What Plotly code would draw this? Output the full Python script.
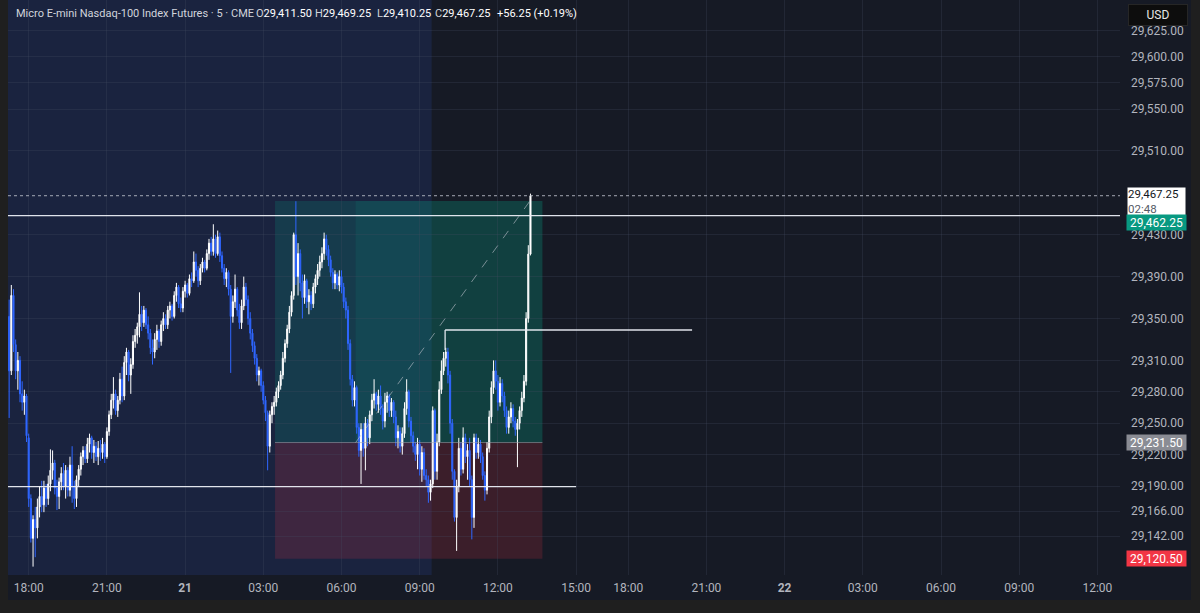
import plotly.graph_objects as go

# ---------------- data (5-minute bars, index 0 = 18:00 session open) ----------------
bar_start = -9
opens = [
    29352, 29300, 29372, 29325, 29300, 29310, 29278, 29270, 29276, 29236,
    29178, 29140, 29158, 29150, 29170, 29180, 29172, 29188, 29178, 29192,
    29205, 29212, 29188, 29180, 29194, 29202, 29190, 29205, 29186, 29210,
    29190, 29178, 29196, 29206, 29218, 29224, 29216, 29230, 29236, 29222,
    29228, 29218, 29226, 29222, 29230, 29218, 29242, 29258, 29272, 29278,
    29262, 29272, 29292, 29276, 29308, 29318, 29296, 29306, 29328, 29334,
    29342, 29354, 29346, 29358, 29344, 29336, 29322, 29318, 29330, 29338,
    29328, 29344, 29350, 29344, 29358, 29362, 29352, 29372, 29380, 29364,
    29360, 29376, 29382, 29374, 29388, 29386, 29404, 29396, 29386, 29398,
    29404, 29398, 29412, 29422, 29414, 29426, 29412, 29428, 29410, 29398,
    29388, 29394, 29378, 29352, 29366, 29378, 29358, 29346, 29362, 29380,
    29368, 29350, 29336, 29324, 29312, 29296, 29300, 29286, 29272, 29260,
    29228, 29258, 29266, 29270, 29280, 29286, 29296, 29312, 29326, 29340,
    29356, 29372, 29430, 29390, 29412, 29384, 29370, 29386, 29366, 29372,
    29364, 29380, 29388, 29396, 29404, 29412, 29426, 29416, 29406, 29394,
    29384, 29392, 29382, 29390, 29380, 29366, 29358, 29326, 29292, 29272,
    29284, 29246, 29224, 29244, 29226, 29250, 29236, 29258, 29272, 29278,
    29268, 29276, 29264, 29252, 29270, 29276, 29262, 29270, 29256, 29236,
    29242, 29228, 29240, 29264, 29280, 29252, 29238, 29228, 29220, 29230,
    29206, 29222, 29200, 29196, 29184, 29192, 29262, 29204, 29232, 29282,
    29300, 29312, 29318, 29296, 29250, 29204, 29160, 29190, 29226, 29206,
    29236, 29218, 29224, 29196, 29160, 29236, 29222, 29230, 29218, 29200,
    29186, 29226, 29256, 29284, 29300, 29290, 29270, 29288, 29276, 29262,
    29246, 29256, 29264, 29252, 29244, 29250, 29262, 29274, 29290, 29350, 29411.5,
]
highs = [
    29368, 29382, 29378, 29330, 29318, 29314, 29290, 29282, 29278, 29240,
    29182, 29162, 29170, 29178, 29190, 29195, 29195, 29192, 29200, 29225,
    29224, 29215, 29196, 29198, 29208, 29212, 29210, 29208, 29218, 29228,
    29195, 29200, 29210, 29222, 29228, 29228, 29236, 29240, 29238, 29234,
    29232, 29233, 29234, 29236, 29232, 29246, 29262, 29278, 29294, 29282,
    29276, 29298, 29304, 29314, 29322, 29320, 29312, 29334, 29340, 29346,
    29375, 29362, 29362, 29360, 29352, 29340, 29330, 29336, 29344, 29340,
    29348, 29356, 29354, 29362, 29366, 29364, 29376, 29384, 29382, 29370,
    29380, 29386, 29384, 29392, 29394, 29414, 29412, 29400, 29402, 29408,
    29406, 29416, 29426, 29428, 29440, 29430, 29434, 29432, 29414, 29402,
    29398, 29396, 29382, 29372, 29392, 29380, 29364, 29368, 29390, 29384,
    29372, 29356, 29340, 29328, 29316, 29304, 29302, 29290, 29276, 29262,
    29262, 29270, 29276, 29284, 29290, 29300, 29318, 29330, 29344, 29362,
    29376, 29432, 29462, 29422, 29416, 29392, 29392, 29388, 29378, 29376,
    29384, 29392, 29402, 29410, 29418, 29432, 29430, 29420, 29410, 29398,
    29396, 29394, 29396, 29396, 29384, 29370, 29362, 29330, 29296, 29290,
    29286, 29250, 29250, 29250, 29256, 29254, 29262, 29278, 29292, 29280,
    29282, 29286, 29268, 29279, 29280, 29278, 29274, 29272, 29262, 29248,
    29246, 29246, 29270, 29292, 29282, 29256, 29242, 29232, 29236, 29234,
    29228, 29226, 29206, 29200, 29196, 29266, 29264, 29240, 29290, 29310,
    29318, 29322, 29322, 29300, 29254, 29206, 29196, 29236, 29232, 29246,
    29240, 29230, 29236, 29200, 29240, 29240, 29236, 29234, 29222, 29204,
    29232, 29262, 29290, 29310, 29310, 29296, 29294, 29292, 29280, 29266,
    29262, 29270, 29268, 29256, 29254, 29266, 29280, 29296, 29356, 29420, 29469.25,
]
lows = [
    29255, 29296, 29318, 29292, 29282, 29270, 29262, 29258, 29232, 29170,
    29136, 29113, 29122, 29140, 29160, 29165, 29165, 29170, 29172, 29185,
    29196, 29182, 29167, 29168, 29186, 29186, 29178, 29180, 29180, 29174,
    29168, 29170, 29190, 29200, 29210, 29212, 29212, 29222, 29216, 29212,
    29214, 29210, 29214, 29216, 29212, 29216, 29238, 29254, 29264, 29258,
    29256, 29268, 29270, 29272, 29296, 29290, 29278, 29302, 29322, 29326,
    29332, 29338, 29342, 29340, 29330, 29316, 29306, 29312, 29320, 29322,
    29324, 29338, 29340, 29340, 29350, 29348, 29350, 29366, 29360, 29356,
    29356, 29370, 29370, 29372, 29380, 29384, 29390, 29380, 29382, 29394,
    29394, 29396, 29406, 29410, 29410, 29408, 29410, 29404, 29394, 29382,
    29380, 29372, 29298, 29346, 29360, 29352, 29340, 29340, 29358, 29362,
    29344, 29330, 29318, 29306, 29290, 29286, 29280, 29268, 29252, 29205,
    29222, 29250, 29258, 29266, 29274, 29282, 29292, 29308, 29322, 29336,
    29352, 29368, 29382, 29372, 29376, 29350, 29364, 29360, 29354, 29358,
    29360, 29374, 29382, 29390, 29398, 29406, 29410, 29400, 29390, 29378,
    29378, 29378, 29376, 29374, 29360, 29350, 29320, 29286, 29266, 29266,
    29240, 29218, 29192, 29218, 29205, 29228, 29230, 29252, 29264, 29262,
    29260, 29258, 29244, 29246, 29260, 29256, 29256, 29250, 29228, 29226,
    29222, 29220, 29236, 29258, 29246, 29232, 29222, 29214, 29206, 29200,
    29194, 29196, 29190, 29174, 29176, 29188, 29196, 29196, 29228, 29278,
    29296, 29304, 29288, 29240, 29196, 29156, 29128, 29184, 29200, 29202,
    29212, 29196, 29190, 29139, 29150, 29216, 29216, 29212, 29196, 29176,
    29182, 29222, 29250, 29278, 29282, 29262, 29266, 29270, 29256, 29240,
    29240, 29250, 29246, 29238, 29208, 29244, 29256, 29270, 29286, 29346, 29410.25,
]
closes = [
    29300, 29372, 29325, 29300, 29310, 29278, 29270, 29276, 29238, 29178,
    29140, 29158, 29150, 29170, 29180, 29172, 29188, 29178, 29192, 29205,
    29212, 29188, 29180, 29194, 29202, 29190, 29205, 29186, 29210, 29190,
    29178, 29196, 29206, 29218, 29224, 29216, 29230, 29236, 29222, 29228,
    29218, 29226, 29222, 29230, 29218, 29242, 29258, 29272, 29278, 29262,
    29272, 29292, 29276, 29308, 29318, 29296, 29306, 29328, 29334, 29342,
    29354, 29346, 29358, 29344, 29336, 29322, 29318, 29330, 29338, 29328,
    29344, 29350, 29344, 29358, 29362, 29352, 29372, 29380, 29364, 29360,
    29376, 29382, 29374, 29388, 29386, 29404, 29396, 29386, 29398, 29404,
    29398, 29412, 29422, 29414, 29426, 29412, 29428, 29410, 29398, 29388,
    29394, 29378, 29352, 29366, 29378, 29358, 29346, 29362, 29380, 29368,
    29350, 29336, 29324, 29312, 29296, 29300, 29286, 29272, 29260, 29228,
    29258, 29266, 29270, 29280, 29286, 29296, 29312, 29326, 29340, 29356,
    29372, 29430, 29390, 29412, 29384, 29370, 29386, 29366, 29372, 29364,
    29380, 29388, 29396, 29404, 29412, 29426, 29416, 29406, 29394, 29384,
    29392, 29382, 29390, 29380, 29366, 29358, 29326, 29292, 29272, 29284,
    29246, 29224, 29244, 29226, 29250, 29236, 29258, 29272, 29278, 29268,
    29276, 29264, 29252, 29270, 29276, 29262, 29270, 29256, 29236, 29242,
    29228, 29240, 29264, 29280, 29252, 29238, 29228, 29220, 29230, 29206,
    29222, 29200, 29196, 29184, 29192, 29262, 29204, 29232, 29282, 29300,
    29312, 29318, 29296, 29250, 29204, 29160, 29190, 29226, 29206, 29236,
    29218, 29224, 29196, 29160, 29236, 29222, 29230, 29218, 29200, 29186,
    29226, 29256, 29284, 29300, 29290, 29270, 29288, 29276, 29262, 29246,
    29256, 29264, 29252, 29244, 29250, 29262, 29274, 29290, 29350, 29411.5, 29467.25,
]
assert len(opens) == len(highs) == len(lows) == len(closes)
bars = list(range(bar_start, bar_start + len(closes)))

# time axis (bar index positions of the session labels)
tick_bars = [0, 36, 72, 108, 144, 180, 216, 252, 276, 312, 348, 384, 420, 456, 492]
tick_text = ["18:00", "21:00", "<b>21</b>", "03:00", "06:00", "09:00", "12:00", "15:00",
             "18:00", "21:00", "<b>22</b>", "03:00", "06:00", "09:00", "12:00"]
price_ticks = [29625, 29600, 29575, 29550, 29510, 29430, 29390, 29350, 29310,
               29280, 29250, 29220, 29190, 29166, 29142]

# header legend
header_title = "Micro E-mini Nasdaq-100 Index Futures · 5 · CME"
header_fields = [("O", "29,411.50"), ("H", "29,469.25"), ("L", "29,410.25"), ("C", "29,467.25")]
header_change = "+56.25 (+0.19%)"

# drawings / levels
last_price = 29467.25
entry_price = 29231.50
target_price = 29462.25
stop_price = 29120.50
level_top = 29448.25
level_mid = 29339.0
level_mid_low = 29320.0
level_low = 29189.5
ext_hours_end = 185.5
pos1_start, pos2_start, pos_end = 113.4, 150.5, 236.5
mid_start, mid_end = 191.7, 305.4
low_end = 252
dash_end = (230.5, 29461.5)

x_range = [-9.53, 502.4]
y_range = [29105.0, 29654.2]

BG = "#161a25"
FRAME = "#1f1f1f"
GRID = "rgba(70,76,96,0.28)"
AX_TXT = "#b2b5be"
FONT = "Roboto"

fig = go.Figure()
fig.add_trace(go.Candlestick(
    x=bars, open=opens, high=highs, low=lows, close=closes,
    increasing=dict(line=dict(color="#ffffff", width=1), fillcolor="#ffffff"),
    decreasing=dict(line=dict(color="#2f66ff", width=1), fillcolor="#2f66ff"),
    whiskerwidth=0, hoverinfo="skip", showlegend=False,
))

shapes = []
# extended-hours shading
shapes.append(dict(type="rect", xref="x", yref="paper", x0=x_range[0], x1=ext_hours_end,
                   y0=0, y1=1, fillcolor="rgba(33,52,112,0.36)", line_width=0, layer="below"))
# position tools
shapes.append(dict(type="rect", xref="x", yref="y", x0=pos1_start, x1=pos_end,
                   y0=entry_price, y1=target_price, fillcolor="rgba(8,153,129,0.20)",
                   line_width=0, layer="below"))
shapes.append(dict(type="rect", xref="x", yref="y", x0=pos2_start, x1=pos_end,
                   y0=entry_price, y1=target_price, fillcolor="rgba(8,153,129,0.13)",
                   line_width=0, layer="below"))
shapes.append(dict(type="rect", xref="x", yref="y", x0=pos1_start, x1=pos_end,
                   y0=stop_price, y1=entry_price, fillcolor="rgba(242,54,69,0.17)",
                   line_width=0, layer="below"))
shapes.append(dict(type="line", xref="x", yref="y", x0=pos1_start, x1=pos_end,
                   y0=entry_price, y1=entry_price, line=dict(color="rgba(160,165,175,0.55)", width=1)))
shapes.append(dict(type="line", xref="x", yref="y", x0=pos2_start, y0=entry_price,
                   x1=dash_end[0], y1=dash_end[1],
                   line=dict(color="rgba(190,195,205,0.6)", width=1, dash="dash")))
# horizontal levels
shapes.append(dict(type="line", xref="paper", yref="y", x0=0, x1=1, y0=last_price, y1=last_price,
                   line=dict(color="rgba(200,204,214,0.8)", width=1, dash="dot")))
shapes.append(dict(type="line", xref="paper", yref="y", x0=0, x1=1, y0=level_top, y1=level_top,
                   line=dict(color="rgba(235,238,245,0.95)", width=1.3)))
shapes.append(dict(type="line", xref="x", yref="y", x0=x_range[0], x1=low_end, y0=level_low, y1=level_low,
                   line=dict(color="rgba(235,238,245,0.95)", width=1.3)))
shapes.append(dict(type="line", xref="x", yref="y", x0=mid_start, x1=mid_end, y0=level_mid, y1=level_mid,
                   line=dict(color="rgba(235,238,245,0.95)", width=1.3)))
shapes.append(dict(type="line", xref="x", yref="y", x0=mid_start, x1=mid_start, y0=level_mid, y1=level_mid_low,
                   line=dict(color="rgba(235,238,245,0.95)", width=1.3)))
# outer frame (outside the chart container)
PW, PH = 1112.0, 575.0
shapes.append(dict(type="rect", xref="paper", yref="paper", x0=-8 / PW, x1=0, y0=-38 / PH, y1=1,
                   fillcolor=FRAME, line_width=0, layer="above"))
shapes.append(dict(type="rect", xref="paper", yref="paper", x0=-8 / PW, x1=1200 / PW, y0=-38 / PH,
                   y1=(575 - 600) / PH, fillcolor=FRAME, line_width=0, layer="above"))
shapes.append(dict(type="rect", xref="paper", yref="paper", x0=(1191 - 8) / PW, x1=1200 / PW,
                   y0=-38 / PH, y1=1, fillcolor=FRAME, line_width=0, layer="above"))

annotations = []


def px_x(px):
    return (px - 8) / PW


def px_y(py):
    return (575 - py) / PH


HFS = 11
hdr = [(15, header_title, "#d1d4dc")]
for xp, (letter, val) in zip([255, 314, 376, 434], header_fields):
    hdr.append((xp, f'{letter}<span style="color:#ffffff">{val}</span>', "#d1d4dc"))
hdr.append((496, header_change, "#ffffff"))
for xp, txt, col in hdr:
    annotations.append(dict(xref="paper", yref="paper", x=px_x(xp), y=px_y(14), xanchor="left",
                            yanchor="middle", text=txt, showarrow=False, borderpad=0,
                            font=dict(family=FONT, size=HFS, color=col)))

lab_x = px_x(1156.5)
# USD box
annotations.append(dict(xref="paper", yref="paper", x=px_x(1158), y=px_y(15), text="USD",
                        showarrow=False, xanchor="center", yanchor="middle", width=56, height=18,
                        bgcolor="#0d0d0d", bordercolor="#262626", borderwidth=1,
                        font=dict(family=FONT, size=12, color="#e6e6e6")))
# price labels
annotations.append(dict(xref="paper", yref="y", x=lab_x, y=last_price, yshift=-6,
                        text='29,467.25<br><span style="color:#555a66">02:48</span>',
                        showarrow=False, xanchor="center", yanchor="middle", width=57, height=27,
                        bgcolor="#ffffff", borderpad=0, align="left",
                        font=dict(family=FONT, size=11.5, color="#131722")))
annotations.append(dict(xref="paper", yref="y", x=lab_x, y=target_price, yshift=-22,
                        text="29,462.25", showarrow=False, xanchor="center", yanchor="middle",
                        width=57, height=13, bgcolor="#089981",
                        font=dict(family=FONT, size=12, color="#ffffff")))
annotations.append(dict(xref="paper", yref="y", x=lab_x, y=entry_price,
                        text="29,231.50", showarrow=False, xanchor="center", yanchor="middle",
                        width=57, height=13, bgcolor="#8a8c94",
                        font=dict(family=FONT, size=12, color="#ffffff")))
annotations.append(dict(xref="paper", yref="y", x=lab_x, y=stop_price,
                        text="29,120.50", showarrow=False, xanchor="center", yanchor="middle",
                        width=57, height=13, bgcolor="#f23645",
                        font=dict(family=FONT, size=12, color="#ffffff")))

fig.update_layout(
    width=1200, height=613,
    margin=dict(l=8, r=80, t=0, b=38, pad=0),
    paper_bgcolor=BG, plot_bgcolor=BG,
    font=dict(family=FONT, size=12, color=AX_TXT),
    showlegend=False,
    shapes=shapes, annotations=annotations,
    hovermode=False,
    xaxis=dict(range=x_range, tickmode="array", tickvals=tick_bars, ticktext=tick_text,
               showgrid=True, gridcolor=GRID, gridwidth=1, zeroline=False, showline=False,
               ticks="", tickfont=dict(family=FONT, size=12, color=AX_TXT),
               rangeslider=dict(visible=False), fixedrange=True, ticklabelstandoff=4),
    yaxis=dict(range=y_range, side="right", tickmode="array", tickvals=price_ticks,
               tickformat=",.2f", showgrid=True, gridcolor=GRID, gridwidth=1, zeroline=False,
               showline=False, ticks="", tickfont=dict(family=FONT, size=12, color=AX_TXT),
               fixedrange=True, ticklabelstandoff=10),
)

fig.write_html(
    "out.html",
    config={"displayModeBar": False},
    post_script="document.body.style.margin='0';document.body.style.background='#1f1f1f';",
)
